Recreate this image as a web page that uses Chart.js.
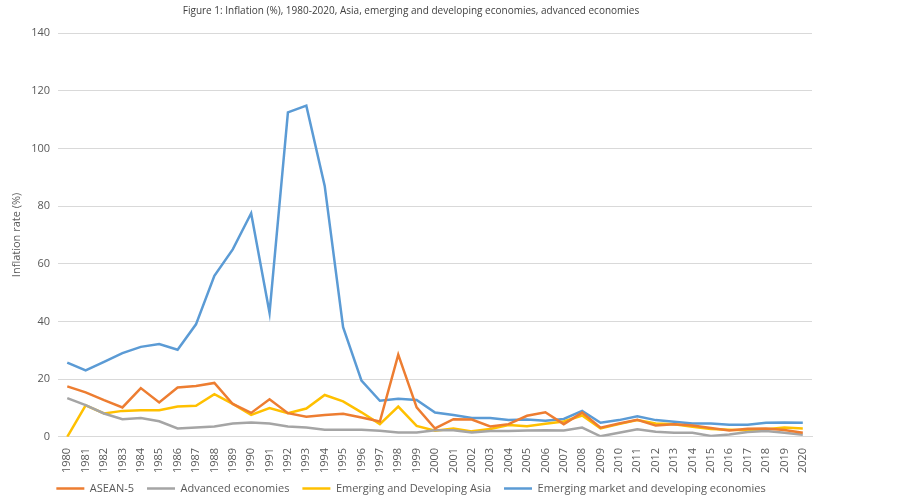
<!DOCTYPE html>
<html>
<head>
<meta charset="utf-8">
<script src="https://cdn.jsdelivr.net/npm/chart.js@4"></script>
<style>
  html, body { margin: 0; padding: 0; background: #fff; }
  #wrap { width: 900px; height: 500px; }
</style>
</head>
<body>
<div id="wrap"><canvas id="inflationChart"></canvas></div>
<script>
const years = [];
for (let y = 1980; y <= 2020; y++) years.push(String(y));

const asean5 = [17.5, 15.4, 12.7, 10.2, 16.9, 11.9, 17.1, 17.6, 18.7, 11.4,
  8.3, 13.0, 8.2, 7.0, 7.6, 8.0, 6.7, 5.3, 28.5, 10.2,
  2.9, 6.1, 6.0, 3.6, 4.4, 7.3, 8.5, 4.4, 8.4, 3.2,
  4.6, 5.9, 3.9, 4.4, 3.9, 3.1, 2.2, 2.8, 2.9, 2.4, 1.4];

const advanced = [13.4, 11.0, 8.1, 6.1, 6.5, 5.4, 2.9, 3.2, 3.6, 4.6,
  5.0, 4.6, 3.6, 3.2, 2.5, 2.5, 2.5, 2.1, 1.5, 1.5,
  2.3, 2.3, 1.5, 2.0, 2.0, 2.2, 2.3, 2.2, 3.2, 0.2,
  1.4, 2.6, 1.8, 1.4, 1.4, 0.3, 0.8, 1.7, 2.0, 1.4, 0.7];

const devAsia = [0, 10.9, 8.1, 9.0, 9.2, 9.2, 10.5, 10.8, 14.8, 11.4,
  7.6, 10.0, 8.2, 9.8, 14.5, 12.3, 8.5, 4.4, 10.5, 3.8,
  2.1, 2.9, 1.9, 2.7, 4.1, 3.7, 4.5, 5.3, 7.4, 2.9,
  4.4, 5.8, 4.6, 4.4, 3.5, 2.7, 2.5, 2.3, 2.6, 3.2, 2.9];

const emerging = [25.7, 23.0, 26.0, 29.0, 31.2, 32.2, 30.2, 39.0, 55.8, 65.0,
  77.5, 43.0, 112.5, 114.8, 87.0, 38.0, 19.5, 12.5, 13.2, 12.8,
  8.4, 7.6, 6.5, 6.5, 5.8, 6.0, 5.6, 6.2, 9.0, 4.9,
  5.8, 7.1, 5.8, 5.2, 4.6, 4.6, 4.2, 4.2, 4.9, 5.0, 4.9];

const seriesNames = ['ASEAN-5', 'Advanced economies', 'Emerging and Developing Asia', 'Emerging market and developing economies'];
const seriesColors = ['#ED7D31', '#A5A5A5', '#FFC000', '#5B9BD5'];
const seriesData = [asean5, advanced, devAsia, emerging];

const yTicks = [0, 20, 40, 60, 80, 100, 120, 140];

const textColor = '#595959';
Chart.defaults.font.family = "'Open Sans', 'Liberation Sans', sans-serif";
Chart.defaults.color = textColor;

// legend padding is big for the gaps between items, so pull the row back up
const legendLift = {
  id: 'legendLift',
  afterLayout(chart) {
    const lg = chart.legend;
    lg.top -= 6;
    lg.bottom -= 6;
  }
};

const ctx = document.getElementById('inflationChart').getContext('2d');

const chart = new Chart(ctx, {
  type: 'line',
  data: {
    labels: years,
    datasets: seriesNames.map((name, i) => ({
      label: name,
      data: seriesData[i],
      borderColor: seriesColors[i],
      backgroundColor: seriesColors[i],
      borderWidth: 2.5,
      pointRadius: 0,
      pointHoverRadius: 0,
      pointStyle: 'line',
      tension: 0,
      fill: false
    }))
  },
  options: {
    responsive: true,
    maintainAspectRatio: false,
    animation: false,
    layout: { padding: { left: 10, right: 88, top: 5, bottom: -10 } },
    plugins: {
      title: {
        display: true,
        text: 'Figure 1: Inflation (%), 1980-2020, Asia, emerging and developing economies, advanced economies',
        color: '#404040',
        font: { size: 10, weight: 'normal' },
        padding: { top: 0, bottom: 16 }
      },
      legend: {
        position: 'bottom',
        labels: {
          usePointStyle: true,
          pointStyleWidth: 28,
          boxHeight: 11,
          color: textColor,
          font: { size: 11 },
          padding: 13
        }
      },
      tooltip: { enabled: false }
    },
    scales: {
      x: {
        offset: true,
        grid: { display: false },
        border: { display: true, color: '#d9d9d9' },
        ticks: {
          autoSkip: false,
          minRotation: 90,
          maxRotation: 90,
          font: { size: 11 },
          color: textColor,
          padding: 3
        }
      },
      y: {
        min: 0,
        max: 140,
        afterBuildTicks: axis => { axis.ticks = yTicks.map(v => ({ value: v })); },
        grid: { color: '#d9d9d9', drawTicks: false },
        border: { display: false },
        ticks: { font: { size: 11 }, color: textColor, padding: 8 },
        title: {
          display: true,
          text: 'Inflation rate (%)',
          color: textColor,
          font: { size: 11 },
          padding: { top: 0, bottom: 0 }
        }
      }
    }
  },
  plugins: [legendLift]
});
</script>
</body>
</html>
